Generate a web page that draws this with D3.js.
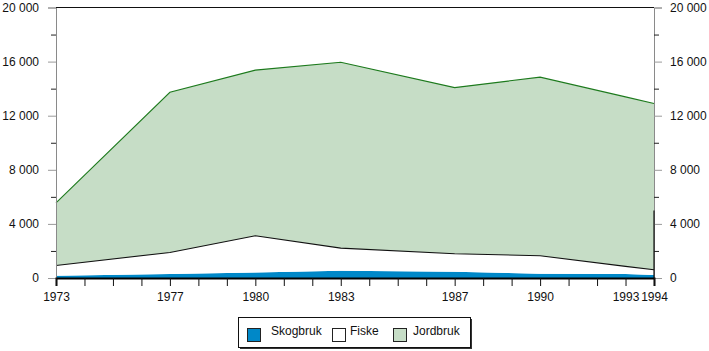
<!DOCTYPE html>
<html>
<head>
<meta charset="utf-8">
<script src="https://cdn.jsdelivr.net/npm/d3@7"></script>
<style>
  html, body { margin: 0; padding: 0; background: #fff; }
  svg { display: block; font-family: "Liberation Sans", Arial, Helvetica, sans-serif; }
</style>
</head>
<body>
<svg id="chart" width="709" height="351"></svg>
<script>
// ---- data ----
const years = [1973, 1977, 1980, 1983, 1987, 1990, 1993, 1994];
const skogbruk = [170, 300, 400, 540, 470, 320, 300, 220];
const fiske = [760, 1590, 2720, 1670, 1320, 1330, 560, 390];
const jordbruk = [4620, 11840, 12250, 13740, 12290, 13200, 12530, 12290];
const seriesNames = ["Skogbruk", "Fiske", "Jordbruk"];
const yTickValues = [0, 4000, 8000, 12000, 16000, 20000];
const xLabelYears = [1973, 1977, 1980, 1983, 1987, 1990, 1993, 1994];

// ---- styles ----
const fills = { Skogbruk: "#0088c8", Fiske: "#ffffff", Jordbruk: "#c6ddc6" };
const strokes = { Skogbruk: "none", Fiske: "#111111", Jordbruk: "#1d7a1d" };

const svg = d3.select("#chart");
const x = d3.scaleLinear().domain([1973, 1994]).range([56, 654]);
const y = d3.scaleLinear().domain([0, 20000]).range([278, 7.5]);

const table = years.map((yr, i) => ({ year: yr, Skogbruk: skogbruk[i], Fiske: fiske[i], Jordbruk: jordbruk[i] }));
const stacked = d3.stack().keys(seriesNames)(table);

const area = d3.area().x(d => x(d.data.year)).y0(d => y(d[0])).y1(d => y(d[1]));
const topLine = d3.line().x(d => x(d.data.year)).y(d => y(d[1]));

svg.append("g").selectAll("path").data(stacked).join("path")
  .attr("d", area).attr("fill", d => fills[d.key]).attr("stroke", "none");
svg.append("g").selectAll("path").data(stacked.filter(s => strokes[s.key] !== "none")).join("path")
  .attr("d", topLine).attr("fill", "none").attr("stroke", d => strokes[d.key]).attr("stroke-width", 1.1);

const fmt = d3.formatLocale({ decimal: ",", thousands: "\u00a0", grouping: [3], currency: ["", ""] }).format(",d");
const minorVals = d3.range(2000, 20000, 4000);

function yAxes(side) {
  const isLeft = side === "left";
  const gen = isLeft ? d3.axisLeft(y) : d3.axisRight(y);
  const g = svg.append("g").attr("transform", `translate(${isLeft ? x.range()[0] : x.range()[1]},0)`)
    .call(gen.tickValues(yTickValues).tickFormat(fmt).tickSize(8).tickPadding(isLeft ? 9 : 8));
  g.select(".domain").attr("stroke", "#8a8a8a");
  g.selectAll(".tick line").attr("stroke", "#9a9a9a");
  g.selectAll(".tick text").attr("font-size", 12).attr("fill", "#111").attr("font-family", "Liberation Sans, Arial, sans-serif")
    .attr("text-anchor", isLeft ? "end" : "start");
  const gm = isLeft ? d3.axisLeft(y) : d3.axisRight(y);
  const m = svg.append("g").attr("transform", `translate(${isLeft ? x.range()[0] : x.range()[1]},0)`)
    .call(gm.tickValues(minorVals).tickFormat("").tickSize(5));
  m.select(".domain").remove();
  m.selectAll(".tick line").attr("stroke", "#222");
}
yAxes("left");
yAxes("right");

svg.append("line").attr("x1", x(1973)).attr("x2", x(1994)).attr("y1", y(20000)).attr("y2", y(20000))
  .attr("stroke", "#111").attr("stroke-width", 1);
svg.append("line").attr("x1", x(1994)).attr("x2", x(1994)).attr("y1", y(5000)).attr("y2", y(0))
  .attr("stroke", "#111").attr("stroke-width", 1.2);

const xg = svg.append("g").attr("transform", `translate(0,${y(0)})`)
  .call(d3.axisBottom(x).tickValues(d3.range(1973, 1995)).tickSize(8)
    .tickFormat(d => xLabelYears.includes(d) ? String(d) : "").tickPadding(6));
xg.select(".domain").attr("stroke", "#000").attr("stroke-width", 2);
xg.selectAll(".tick line").attr("stroke", "#111");
xg.selectAll(".tick text").attr("font-size", 12).attr("fill", "#111").attr("font-family", "Liberation Sans, Arial, sans-serif");

const lg = svg.append("g");
lg.append("rect").attr("x", 240).attr("y", 319).attr("width", 232).attr("height", 30).attr("fill", "#333");
lg.append("rect").attr("x", 238.5).attr("y", 317.5).attr("width", 232).attr("height", 30)
  .attr("fill", "#fff").attr("stroke", "#111").attr("stroke-width", 1);
const legendItems = [
  { key: "Skogbruk", bx: 247, tx: 271 },
  { key: "Fiske", bx: 332, tx: 350 },
  { key: "Jordbruk", bx: 393, tx: 413 }
];
legendItems.forEach(it => {
  lg.append("rect").attr("x", it.bx + 0.5).attr("y", 328.5).attr("width", 13).attr("height", 13)
    .attr("fill", fills[it.key]).attr("stroke", "#222").attr("stroke-width", 1);
  lg.append("text").attr("x", it.tx).attr("y", 335).attr("font-size", 12).attr("fill", "#111")
    .text(it.key);
});
</script>
</body>
</html>
